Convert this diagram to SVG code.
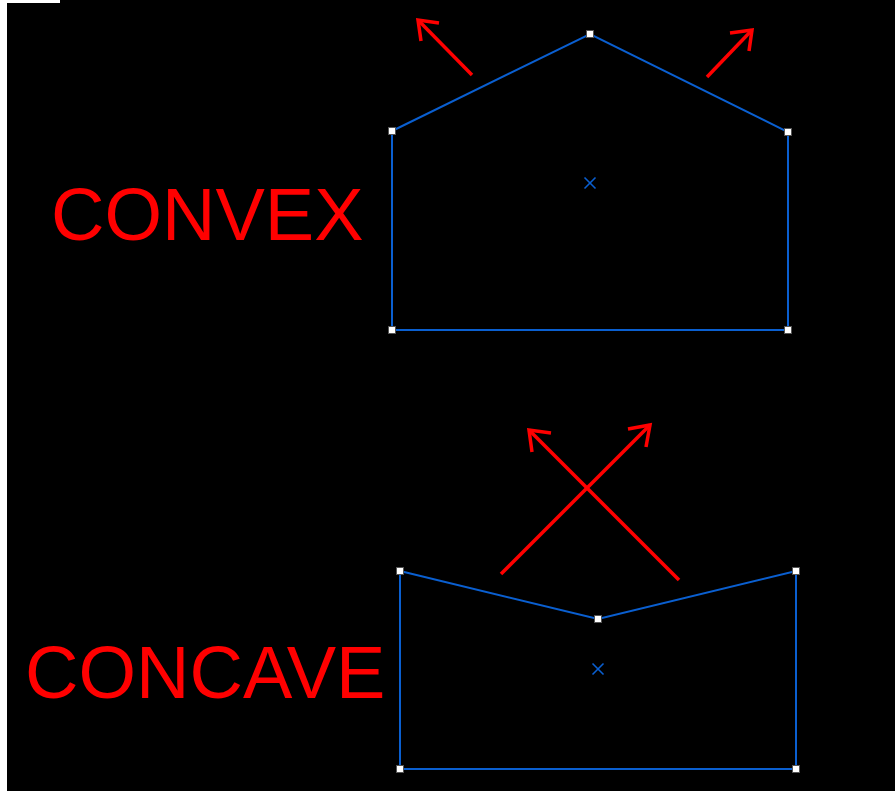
<svg xmlns="http://www.w3.org/2000/svg" width="895" height="791" viewBox="0 0 895 791">
<defs>
<style>
.shape{fill:none;stroke:#0a5fd0;stroke-width:2}
.handle{fill:#ffffff;stroke:#555555;stroke-width:1}
.arrow{stroke:#ff0000;stroke-width:3.5;fill:none;stroke-linecap:butt}
.head{stroke:#ff0000;stroke-width:3.5;fill:none;stroke-linejoin:miter}
.center{stroke:#0a5fd0;stroke-width:1.6}
.label{font-family:"Liberation Sans",Arial,sans-serif;font-size:74px;fill:#ff0000}
</style>
</defs>
<rect x="0" y="0" width="895" height="791" fill="#ffffff"/>
<rect x="7" y="3" width="888" height="788" fill="#000000"/>
<rect x="60" y="0" width="835" height="3" fill="#000000"/>

<g id="convex">
<polygon class="shape" points="392,131 590,34 788,132 788,330 392,330"/>
<g class="center"><line x1="584.5" y1="177.5" x2="595.5" y2="188.5"/><line x1="595.5" y1="177.5" x2="584.5" y2="188.5"/></g>
<rect class="handle" x="388.5" y="127.5" width="7" height="7"/>
<rect class="handle" x="586.5" y="30.5" width="7" height="7"/>
<rect class="handle" x="784.5" y="128.5" width="7" height="7"/>
<rect class="handle" x="784.5" y="326.5" width="7" height="7"/>
<rect class="handle" x="388.5" y="326.5" width="7" height="7"/>
</g>

<g id="concave">
<polygon class="shape" points="400,571 598,619 796,571 796,769 400,769"/>
<g class="center"><line x1="592.5" y1="663.5" x2="603.5" y2="674.5"/><line x1="603.5" y1="663.5" x2="592.5" y2="674.5"/></g>
<rect class="handle" x="396.5" y="567.5" width="7" height="7"/>
<rect class="handle" x="594.5" y="615.5" width="7" height="7"/>
<rect class="handle" x="792.5" y="567.5" width="7" height="7"/>
<rect class="handle" x="792.5" y="765.5" width="7" height="7"/>
<rect class="handle" x="396.5" y="765.5" width="7" height="7"/>
</g>

<g id="connectors">
<line class="arrow" x1="472" y1="75" x2="419" y2="21"/>
<polyline class="head" points="421,41 418,20 439,23"/>
<line class="arrow" x1="707" y1="77" x2="752" y2="30"/>
<polyline class="head" points="730,33 752,30 749,51"/>
<line class="arrow" x1="501" y1="574" x2="650" y2="425"/>
<polyline class="head" points="628,429 650,425 646,447"/>
<line class="arrow" x1="679" y1="580" x2="529" y2="430"/>
<polyline class="head" points="532,452 529,430 551,433"/>
</g>

<g id="label-convex"><text class="label" x="51" y="240">CONVEX</text></g>
<g id="label-concave"><text class="label" x="25" y="698">CONCAVE</text></g>
</svg>
